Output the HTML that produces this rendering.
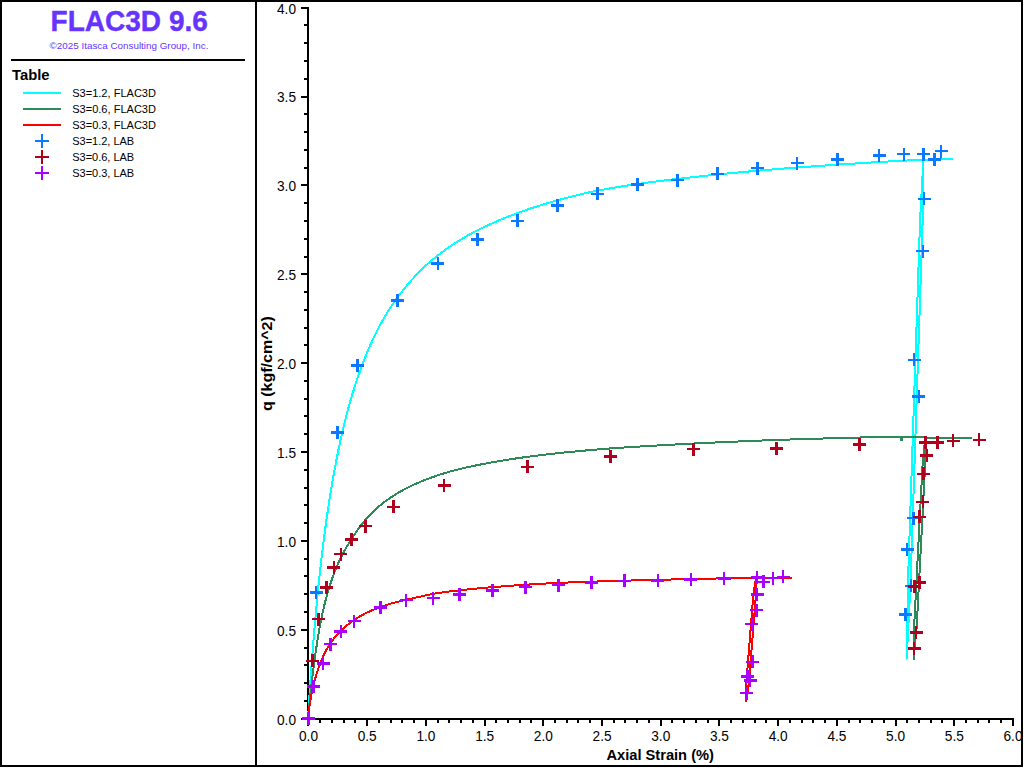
<!DOCTYPE html>
<html lang="en"><head><meta charset="utf-8"><title>FLAC3D 9.6</title>
<style>
html,body{margin:0;padding:0;background:#fff;}
body{width:1024px;height:768px;overflow:hidden;}
svg{display:block;position:absolute;left:0;top:0;}
text{font-family:"Liberation Sans",sans-serif;}
.b{font-weight:bold;}
.t{font-size:15px;fill:#000;}
</style></head><body>
<svg width="1024" height="768" viewBox="0 0 1024 768">
<rect x="0" y="0" width="1024" height="768" fill="#fff"/>
<g fill="#000" shape-rendering="crispEdges">
<rect x="0" y="0" width="1023" height="2"/>
<rect x="0" y="0" width="2" height="767"/>
<rect x="0" y="765" width="1023" height="2"/>
<rect x="1021" y="0" width="2" height="767"/>
<rect x="255" y="0" width="2" height="767"/>
<rect x="11" y="59" width="234" height="2"/>
</g>
<text x="129.2" y="31.2" text-anchor="middle" class="b" font-size="30.3" fill="#6633ff" stroke="#6633ff" stroke-width="0.4" textLength="157.3" lengthAdjust="spacingAndGlyphs">FLAC3D 9.6</text>
<text x="129" y="48.9" text-anchor="middle" font-size="9.8" fill="#6633ff" textLength="158.8" lengthAdjust="spacingAndGlyphs">©2025 Itasca Consulting Group, Inc.</text>
<text x="12" y="79.7" class="b" font-size="14.5" fill="#000" textLength="37.6" lengthAdjust="spacingAndGlyphs">Table</text>
<rect x="23" y="92" width="38" height="2" fill="#00ffff" shape-rendering="crispEdges"/>
<text x="72.2" y="96.7" font-size="11.8" fill="#000" textLength="83.8" lengthAdjust="spacingAndGlyphs">S3=1.2, FLAC3D</text>
<rect x="23" y="108" width="38" height="2" fill="#2e8b57" shape-rendering="crispEdges"/>
<text x="72.2" y="112.7" font-size="11.8" fill="#000" textLength="83.8" lengthAdjust="spacingAndGlyphs">S3=0.6, FLAC3D</text>
<rect x="23" y="124" width="38" height="2" fill="#ff0000" shape-rendering="crispEdges"/>
<text x="72.2" y="128.7" font-size="11.8" fill="#000" textLength="83.8" lengthAdjust="spacingAndGlyphs">S3=0.3, FLAC3D</text>
<g fill="#0a78ff" shape-rendering="crispEdges"><rect x="35" y="140" width="14" height="2"/><rect x="41" y="134" width="2" height="14"/></g>
<text x="72.2" y="144.7" font-size="11.8" fill="#000" textLength="62.0" lengthAdjust="spacingAndGlyphs">S3=1.2, LAB</text>
<g fill="#b0001e" shape-rendering="crispEdges"><rect x="35" y="156" width="14" height="2"/><rect x="41" y="150" width="2" height="14"/></g>
<text x="72.2" y="160.7" font-size="11.8" fill="#000" textLength="62.0" lengthAdjust="spacingAndGlyphs">S3=0.6, LAB</text>
<g fill="#aa00ff" shape-rendering="crispEdges"><rect x="35" y="172" width="14" height="2"/><rect x="41" y="166" width="2" height="14"/></g>
<text x="72.2" y="176.7" font-size="11.8" fill="#000" textLength="62.0" lengthAdjust="spacingAndGlyphs">S3=0.3, LAB</text>
<g fill="#000" shape-rendering="crispEdges">
<rect x="307" y="7" width="2" height="713"/>
<rect x="307" y="718" width="707" height="2"/>
<rect x="301" y="718" width="6" height="2"/>
<rect x="304" y="700" width="3" height="2"/>
<rect x="304" y="682" width="3" height="2"/>
<rect x="304" y="664" width="3" height="2"/>
<rect x="304" y="647" width="3" height="2"/>
<rect x="301" y="629" width="6" height="2"/>
<rect x="304" y="611" width="3" height="2"/>
<rect x="304" y="593" width="3" height="2"/>
<rect x="304" y="575" width="3" height="2"/>
<rect x="304" y="558" width="3" height="2"/>
<rect x="301" y="540" width="6" height="2"/>
<rect x="304" y="522" width="3" height="2"/>
<rect x="304" y="504" width="3" height="2"/>
<rect x="304" y="487" width="3" height="2"/>
<rect x="304" y="469" width="3" height="2"/>
<rect x="301" y="451" width="6" height="2"/>
<rect x="304" y="433" width="3" height="2"/>
<rect x="304" y="415" width="3" height="2"/>
<rect x="304" y="398" width="3" height="2"/>
<rect x="304" y="380" width="3" height="2"/>
<rect x="301" y="362" width="6" height="2"/>
<rect x="304" y="344" width="3" height="2"/>
<rect x="304" y="327" width="3" height="2"/>
<rect x="304" y="309" width="3" height="2"/>
<rect x="304" y="291" width="3" height="2"/>
<rect x="301" y="273" width="6" height="2"/>
<rect x="304" y="256" width="3" height="2"/>
<rect x="304" y="238" width="3" height="2"/>
<rect x="304" y="220" width="3" height="2"/>
<rect x="304" y="202" width="3" height="2"/>
<rect x="301" y="184" width="6" height="2"/>
<rect x="304" y="167" width="3" height="2"/>
<rect x="304" y="149" width="3" height="2"/>
<rect x="304" y="131" width="3" height="2"/>
<rect x="304" y="113" width="3" height="2"/>
<rect x="301" y="96" width="6" height="2"/>
<rect x="304" y="78" width="3" height="2"/>
<rect x="304" y="60" width="3" height="2"/>
<rect x="304" y="42" width="3" height="2"/>
<rect x="304" y="24" width="3" height="2"/>
<rect x="301" y="7" width="6" height="2"/>
<rect x="307" y="720" width="2" height="6"/>
<rect x="319" y="720" width="2" height="3"/>
<rect x="331" y="720" width="2" height="3"/>
<rect x="343" y="720" width="2" height="3"/>
<rect x="354" y="720" width="2" height="3"/>
<rect x="366" y="720" width="2" height="6"/>
<rect x="378" y="720" width="2" height="3"/>
<rect x="390" y="720" width="2" height="3"/>
<rect x="401" y="720" width="2" height="3"/>
<rect x="413" y="720" width="2" height="3"/>
<rect x="425" y="720" width="2" height="6"/>
<rect x="437" y="720" width="2" height="3"/>
<rect x="448" y="720" width="2" height="3"/>
<rect x="460" y="720" width="2" height="3"/>
<rect x="472" y="720" width="2" height="3"/>
<rect x="484" y="720" width="2" height="6"/>
<rect x="495" y="720" width="2" height="3"/>
<rect x="507" y="720" width="2" height="3"/>
<rect x="519" y="720" width="2" height="3"/>
<rect x="530" y="720" width="2" height="3"/>
<rect x="542" y="720" width="2" height="6"/>
<rect x="554" y="720" width="2" height="3"/>
<rect x="566" y="720" width="2" height="3"/>
<rect x="577" y="720" width="2" height="3"/>
<rect x="589" y="720" width="2" height="3"/>
<rect x="601" y="720" width="2" height="6"/>
<rect x="613" y="720" width="2" height="3"/>
<rect x="624" y="720" width="2" height="3"/>
<rect x="636" y="720" width="2" height="3"/>
<rect x="648" y="720" width="2" height="3"/>
<rect x="660" y="720" width="2" height="6"/>
<rect x="671" y="720" width="2" height="3"/>
<rect x="683" y="720" width="2" height="3"/>
<rect x="695" y="720" width="2" height="3"/>
<rect x="707" y="720" width="2" height="3"/>
<rect x="718" y="720" width="2" height="6"/>
<rect x="730" y="720" width="2" height="3"/>
<rect x="742" y="720" width="2" height="3"/>
<rect x="754" y="720" width="2" height="3"/>
<rect x="765" y="720" width="2" height="3"/>
<rect x="777" y="720" width="2" height="6"/>
<rect x="789" y="720" width="2" height="3"/>
<rect x="801" y="720" width="2" height="3"/>
<rect x="812" y="720" width="2" height="3"/>
<rect x="824" y="720" width="2" height="3"/>
<rect x="836" y="720" width="2" height="6"/>
<rect x="848" y="720" width="2" height="3"/>
<rect x="859" y="720" width="2" height="3"/>
<rect x="871" y="720" width="2" height="3"/>
<rect x="883" y="720" width="2" height="3"/>
<rect x="895" y="720" width="2" height="6"/>
<rect x="906" y="720" width="2" height="3"/>
<rect x="918" y="720" width="2" height="3"/>
<rect x="930" y="720" width="2" height="3"/>
<rect x="941" y="720" width="2" height="3"/>
<rect x="953" y="720" width="2" height="6"/>
<rect x="965" y="720" width="2" height="3"/>
<rect x="977" y="720" width="2" height="3"/>
<rect x="988" y="720" width="2" height="3"/>
<rect x="1000" y="720" width="2" height="3"/>
<rect x="1012" y="720" width="2" height="6"/>
</g>
<text x="296" y="724.50" text-anchor="end" class="t" textLength="19" lengthAdjust="spacingAndGlyphs">0.0</text>
<text x="296" y="635.62" text-anchor="end" class="t" textLength="19" lengthAdjust="spacingAndGlyphs">0.5</text>
<text x="296" y="546.75" text-anchor="end" class="t" textLength="19" lengthAdjust="spacingAndGlyphs">1.0</text>
<text x="296" y="457.88" text-anchor="end" class="t" textLength="19" lengthAdjust="spacingAndGlyphs">1.5</text>
<text x="296" y="369.00" text-anchor="end" class="t" textLength="19" lengthAdjust="spacingAndGlyphs">2.0</text>
<text x="296" y="280.12" text-anchor="end" class="t" textLength="19" lengthAdjust="spacingAndGlyphs">2.5</text>
<text x="296" y="191.25" text-anchor="end" class="t" textLength="19" lengthAdjust="spacingAndGlyphs">3.0</text>
<text x="296" y="102.38" text-anchor="end" class="t" textLength="19" lengthAdjust="spacingAndGlyphs">3.5</text>
<text x="296" y="13.50" text-anchor="end" class="t" textLength="19" lengthAdjust="spacingAndGlyphs">4.0</text>
<text x="308.50" y="741.2" text-anchor="middle" class="t" textLength="19" lengthAdjust="spacingAndGlyphs">0.0</text>
<text x="367.21" y="741.2" text-anchor="middle" class="t" textLength="19" lengthAdjust="spacingAndGlyphs">0.5</text>
<text x="425.92" y="741.2" text-anchor="middle" class="t" textLength="19" lengthAdjust="spacingAndGlyphs">1.0</text>
<text x="484.63" y="741.2" text-anchor="middle" class="t" textLength="19" lengthAdjust="spacingAndGlyphs">1.5</text>
<text x="543.34" y="741.2" text-anchor="middle" class="t" textLength="19" lengthAdjust="spacingAndGlyphs">2.0</text>
<text x="602.05" y="741.2" text-anchor="middle" class="t" textLength="19" lengthAdjust="spacingAndGlyphs">2.5</text>
<text x="660.76" y="741.2" text-anchor="middle" class="t" textLength="19" lengthAdjust="spacingAndGlyphs">3.0</text>
<text x="719.47" y="741.2" text-anchor="middle" class="t" textLength="19" lengthAdjust="spacingAndGlyphs">3.5</text>
<text x="778.18" y="741.2" text-anchor="middle" class="t" textLength="19" lengthAdjust="spacingAndGlyphs">4.0</text>
<text x="836.89" y="741.2" text-anchor="middle" class="t" textLength="19" lengthAdjust="spacingAndGlyphs">4.5</text>
<text x="895.60" y="741.2" text-anchor="middle" class="t" textLength="19" lengthAdjust="spacingAndGlyphs">5.0</text>
<text x="954.31" y="741.2" text-anchor="middle" class="t" textLength="19" lengthAdjust="spacingAndGlyphs">5.5</text>
<text x="1013.02" y="741.2" text-anchor="middle" class="t" textLength="19" lengthAdjust="spacingAndGlyphs">6.0</text>
<text x="660.2" y="759.7" text-anchor="middle" class="b" font-size="14.5" fill="#000" textLength="107.5" lengthAdjust="spacingAndGlyphs">Axial Strain (%)</text>
<text transform="translate(272.3,363.6) rotate(-90)" text-anchor="middle" class="b" font-size="14.5" fill="#000" textLength="95" lengthAdjust="spacingAndGlyphs">q (kgf/cm^2)</text>
<g fill="none" stroke-width="2" stroke-linejoin="round" stroke-linecap="butt" shape-rendering="crispEdges">
<path d="M308.00,719.00 L309.00,703.04 L309.99,687.92 L310.99,673.55 L311.98,659.90 L312.98,646.91 L313.97,634.52 L314.97,622.71 L315.97,611.43 L316.96,600.80 L317.96,590.70 L318.95,581.03 L319.95,571.77 L320.94,562.89 L321.94,554.37 L322.94,546.19 L323.93,538.33 L324.93,530.77 L325.92,523.49 L326.92,516.48 L327.92,509.73 L328.91,503.22 L329.91,496.94 L330.90,490.87 L331.90,484.95 L332.89,479.12 L333.89,473.48 L334.89,468.02 L335.88,462.73 L336.88,457.60 L337.87,452.63 L338.87,447.80 L339.86,443.11 L340.86,438.56 L341.86,434.14 L342.85,429.85 L343.85,425.67 L344.84,421.60 L345.84,417.65 L346.83,413.80 L347.83,410.05 L348.83,406.40 L349.82,402.84 L350.82,399.37 L351.81,395.99 L352.81,392.69 L353.81,389.47 L354.80,386.33 L355.80,383.26 L356.79,380.27 L357.79,377.34 L358.78,374.48 L359.78,371.69 L360.78,368.96 L361.77,366.24 L362.77,363.57 L363.76,360.95 L364.76,358.40 L365.75,355.89 L366.75,353.44 L369.74,346.37 L372.72,339.71 L375.71,333.42 L378.70,327.49 L381.69,322.03 L384.67,316.86 L387.66,311.96 L390.65,307.30 L393.64,302.87 L396.62,298.65 L399.61,294.63 L402.60,290.78 L405.58,287.05 L408.57,283.48 L411.56,280.07 L414.55,276.79 L417.53,273.64 L420.52,270.62 L423.51,267.71 L426.50,264.93 L429.48,262.29 L432.47,259.74 L435.46,257.28 L438.44,254.91 L441.43,252.63 L444.42,250.42 L447.41,248.29 L450.39,246.23 L453.38,244.23 L456.37,242.30 L459.36,240.43 L462.34,238.63 L465.33,236.88 L468.32,235.19 L471.31,233.55 L474.29,231.95 L477.28,230.41 L480.27,228.90 L483.25,227.44 L486.24,226.02 L489.23,224.64 L492.22,223.29 L495.20,221.99 L498.19,220.71 L501.18,219.47 L504.17,218.26 L507.15,217.08 L510.14,215.90 L513.13,214.75 L516.11,213.62 L519.10,212.51 L522.09,211.43 L525.08,210.38 L528.06,209.35 L531.05,208.34 L534.04,207.36 L537.03,206.39 L540.01,205.45 L543.00,204.53 L547.81,203.07 L552.63,201.67 L557.44,200.31 L562.25,198.99 L567.07,197.72 L571.88,196.48 L576.69,195.28 L581.50,194.11 L586.32,192.98 L591.13,191.91 L595.94,190.97 L600.76,190.07 L605.57,189.19 L610.38,188.34 L615.20,187.51 L620.01,186.71 L624.82,185.93 L629.63,185.17 L634.45,184.44 L639.26,183.73 L644.07,183.06 L648.89,182.40 L653.70,181.77 L658.51,181.15 L663.33,180.55 L668.14,179.97 L672.95,179.40 L677.77,178.85 L682.58,178.31 L687.39,177.79 L692.20,177.28 L697.02,176.76 L701.83,176.22 L706.64,175.68 L711.46,175.16 L716.27,174.65 L721.08,174.15 L725.90,173.66 L730.71,173.19 L735.52,172.72 L740.33,172.26 L745.15,171.81 L749.96,171.38 L754.77,170.95 L759.59,170.53 L764.40,170.12 L769.21,169.71 L774.03,169.32 L778.84,168.93 L783.65,168.55 L788.46,168.18 L793.28,167.81 L798.09,167.45 L802.90,167.10 L807.72,166.73 L812.53,166.38 L817.34,166.03 L822.16,165.68 L826.97,165.35 L831.78,165.01 L836.60,164.69 L841.41,164.37 L846.22,164.05 L851.03,163.74 L855.85,163.43 L860.66,163.13 L865.47,162.84 L870.29,162.55 L875.10,162.27 L879.91,161.99 L884.73,161.72 L889.54,161.45 L894.35,161.19 L899.16,160.92 L903.98,160.67 L908.79,160.41 L913.60,160.16 L918.42,159.92 L923.23,159.68 L923.30,160.00 L953.00,159.00" stroke="#00ffff"/>
<path d="M923.40,160.00 L920.10,219.83 L907.91,583.81 L906.70,658.60 L910.50,583.81 L922.70,219.83 L923.40,160.00" stroke="#00ffff"/>
<path d="M308.00,719.00 L309.00,708.31 L309.99,698.34 L310.99,689.01 L311.98,680.27 L312.98,672.06 L313.97,664.33 L314.97,657.04 L315.97,650.15 L316.96,643.63 L317.96,637.45 L318.95,631.58 L319.95,626.00 L320.94,620.69 L321.94,615.63 L322.94,611.13 L323.93,606.92 L324.93,602.91 L325.92,599.08 L326.92,595.43 L327.92,591.94 L328.91,588.60 L329.91,585.40 L330.90,582.34 L331.90,579.41 L332.89,576.60 L333.89,573.90 L334.89,571.29 L335.88,568.78 L336.88,566.36 L337.87,564.04 L338.87,561.80 L339.86,559.65 L340.86,557.57 L341.86,555.56 L342.85,553.62 L343.85,551.76 L344.84,549.95 L345.84,548.21 L346.83,546.52 L347.83,544.89 L348.83,543.31 L349.82,541.79 L350.82,540.20 L351.81,538.55 L352.81,536.96 L353.81,535.40 L354.80,533.88 L355.80,532.41 L356.79,530.97 L357.79,529.57 L358.78,528.20 L359.78,526.87 L360.78,525.57 L361.77,524.30 L362.77,523.06 L363.76,521.85 L364.76,520.67 L365.75,519.51 L366.75,518.38 L369.74,515.14 L372.72,512.11 L375.71,509.25 L378.70,506.58 L381.69,504.13 L384.67,501.82 L387.66,499.64 L390.65,497.58 L393.64,495.63 L396.62,493.77 L399.61,492.01 L402.60,490.34 L405.58,488.74 L408.57,487.22 L411.56,485.76 L414.55,484.37 L417.53,483.04 L420.52,481.77 L423.51,480.54 L426.50,479.37 L429.48,478.25 L432.47,477.16 L435.46,476.12 L438.44,475.12 L441.43,474.15 L444.42,473.22 L447.41,472.32 L450.39,471.47 L453.38,470.67 L456.37,469.90 L459.36,469.15 L462.34,468.43 L465.33,467.73 L468.32,467.06 L471.31,466.40 L474.29,465.77 L477.28,465.16 L480.27,464.57 L483.25,463.99 L486.24,463.42 L489.23,462.85 L492.22,462.30 L495.20,461.77 L498.19,461.25 L501.18,460.75 L504.17,460.26 L507.15,459.78 L510.14,459.31 L513.13,458.86 L516.11,458.42 L519.10,457.99 L522.09,457.56 L525.08,457.15 L528.06,456.75 L531.05,456.36 L534.04,455.98 L537.03,455.60 L540.01,455.24 L543.00,454.88 L547.21,454.39 L551.42,453.91 L555.63,453.44 L559.84,452.99 L564.05,452.55 L568.26,452.13 L572.46,451.71 L576.67,451.31 L580.88,450.92 L585.09,450.54 L589.30,450.17 L593.51,449.81 L597.72,449.45 L601.93,449.11 L606.14,448.78 L610.35,448.45 L614.56,448.14 L618.77,447.85 L622.97,447.56 L627.18,447.29 L631.39,447.02 L635.60,446.76 L639.81,446.50 L644.02,446.25 L648.23,446.01 L652.44,445.77 L656.65,445.54 L660.86,445.31 L665.07,445.07 L669.28,444.83 L673.48,444.59 L677.69,444.36 L681.90,444.13 L686.11,443.91 L690.32,443.69 L694.53,443.48 L698.74,443.27 L702.95,443.07 L707.16,442.87 L711.37,442.67 L715.58,442.47 L719.79,442.28 L723.99,442.09 L728.20,441.91 L732.41,441.73 L736.62,441.55 L740.83,441.37 L745.04,441.20 L749.25,441.03 L753.46,440.86 L757.67,440.70 L761.88,440.53 L766.09,440.37 L770.30,440.22 L774.50,440.06 L778.71,439.91 L782.92,439.76 L787.13,439.61 L791.34,439.47 L795.55,439.32 L799.76,439.18 L803.97,439.05 L808.18,438.92 L812.39,438.80 L816.60,438.68 L820.81,438.56 L825.01,438.44 L829.22,438.32 L833.43,438.20 L837.64,438.09 L841.85,437.98 L846.06,437.87 L850.27,437.76 L854.48,437.65 L858.69,437.55 L862.90,437.44 L867.11,437.34 L871.32,437.24 L875.52,437.14 L876.00,437.20 L923.50,437.20 L925.00,438.00 L972.00,438.00" stroke="#2e8b57"/>
<path d="M925.30,437.40 L922.61,464.03 L914.14,626.01 L913.70,659.30 L916.74,626.01 L925.21,464.03 L925.30,437.40" stroke="#2e8b57"/>
<path d="M901.5,437 V441" stroke="#2e8b57" stroke-width="2.2"/>
<path d="M308.00,719.00 L309.00,709.63 L309.99,702.49 L310.99,697.02 L311.98,692.01 L312.98,687.40 L313.97,683.24 L314.97,679.44 L315.97,675.92 L316.96,672.65 L317.96,669.62 L318.95,666.80 L319.95,664.17 L320.94,661.63 L321.94,659.21 L322.94,656.92 L323.93,654.77 L324.93,652.75 L325.92,650.83 L326.92,649.03 L327.92,647.32 L328.91,645.70 L329.91,644.15 L330.90,642.65 L331.90,641.23 L332.89,639.87 L333.89,638.57 L334.89,637.34 L335.88,636.16 L336.88,635.03 L337.87,633.96 L338.87,632.93 L339.86,631.94 L340.86,630.97 L341.86,629.96 L342.85,629.00 L343.85,628.06 L344.84,627.17 L345.84,626.30 L346.83,625.46 L347.83,624.65 L348.83,623.87 L349.82,623.12 L350.82,622.39 L351.81,621.68 L352.81,621.00 L353.81,620.34 L354.80,619.65 L355.80,618.99 L356.79,618.34 L357.79,617.71 L358.78,617.10 L359.78,616.50 L360.78,615.92 L361.77,615.36 L362.77,614.81 L363.76,614.27 L364.76,613.75 L365.75,613.24 L366.75,612.75 L369.74,611.33 L372.72,610.01 L375.71,608.77 L378.70,607.62 L381.69,606.54 L384.67,605.53 L387.66,604.57 L390.65,603.67 L393.64,602.82 L396.62,602.02 L399.61,601.25 L402.60,600.53 L405.58,599.84 L408.57,599.18 L411.56,598.56 L414.55,597.93 L417.53,597.22 L420.52,596.54 L423.51,595.89 L426.50,595.25 L429.48,594.64 L432.47,594.04 L435.46,593.46 L438.44,592.95 L441.43,592.53 L444.42,592.13 L447.41,591.74 L450.39,591.36 L453.38,591.00 L456.37,590.65 L459.36,590.31 L462.34,589.98 L465.33,589.66 L468.32,589.35 L471.31,589.05 L474.29,588.76 L477.28,588.48 L480.27,588.20 L483.25,587.93 L486.24,587.67 L489.23,587.42 L492.22,587.17 L495.20,586.93 L498.19,586.70 L501.18,586.47 L504.17,586.25 L507.15,586.03 L510.14,585.81 L513.13,585.60 L516.11,585.39 L519.10,585.19 L522.09,584.99 L525.08,584.79 L528.06,584.60 L531.05,584.41 L534.04,584.23 L537.03,584.05 L540.01,583.87 L543.00,583.70 L545.68,583.54 L548.35,583.39 L551.03,583.25 L553.71,583.10 L556.39,582.98 L559.06,582.86 L561.74,582.75 L564.42,582.65 L567.09,582.54 L569.77,582.44 L572.45,582.33 L575.13,582.23 L577.80,582.14 L580.48,582.04 L583.16,581.95 L585.84,581.85 L588.51,581.76 L591.19,581.67 L593.87,581.58 L596.54,581.50 L599.22,581.41 L601.90,581.33 L604.58,581.25 L607.25,581.17 L609.93,581.09 L612.61,581.01 L615.28,580.93 L617.96,580.86 L620.64,580.78 L623.32,580.71 L625.99,580.64 L628.67,580.56 L631.35,580.49 L634.03,580.43 L636.70,580.36 L639.38,580.29 L642.06,580.22 L644.73,580.15 L647.41,580.08 L650.09,580.01 L652.77,579.95 L655.44,579.88 L658.12,579.82 L660.80,579.75 L663.47,579.69 L666.15,579.63 L668.83,579.57 L671.51,579.50 L674.18,579.45 L676.86,579.39 L679.54,579.33 L682.22,579.27 L684.89,579.21 L687.57,579.16 L690.25,579.10 L692.92,579.05 L695.60,578.99 L698.28,578.93 L700.96,578.86 L703.63,578.79 L706.31,578.73 L708.99,578.66 L711.66,578.60 L714.34,578.54 L717.02,578.47 L719.70,578.41 L722.37,578.35 L725.05,578.29 L727.73,578.23 L730.41,578.17 L733.08,578.11 L735.76,578.05 L738.44,577.99 L741.11,577.93 L743.79,577.87 L746.47,577.82 L749.15,577.76 L751.82,577.70 L754.50,577.65 L754.00,577.90 L791.80,577.90" stroke="#ff0000"/>
<path d="M756.00,578.00 L753.52,592.74 L746.37,682.38 L746.20,700.80 L748.97,682.38 L756.12,592.74 L756.00,578.00" stroke="#ff0000"/>
</g>
<path d="M309.50,592.50h13M316.00,586.00v13M331.00,432.50h13M337.50,426.00v13M350.90,365.60h13M357.40,359.10v13M390.75,300.50h13M397.25,294.00v13M431.25,263.25h13M437.75,256.75v13M471.00,239.50h13M477.50,233.00v13M510.90,220.90h13M517.40,214.40v13M551.00,205.50h13M557.50,199.00v13M591.00,193.90h13M597.50,187.40v13M630.75,184.50h13M637.25,178.00v13M670.90,180.00h13M677.40,173.50v13M711.00,173.90h13M717.50,167.40v13M751.00,168.00h13M757.50,161.50v13M790.60,163.10h13M797.10,156.60v13M830.90,159.40h13M837.40,152.90v13M872.60,155.50h13M879.10,149.00v13M897.40,154.00h13M903.90,147.50v13M917.00,154.00h13M923.50,147.50v13M928.00,159.50h13M934.50,153.00v13M934.60,151.00h13M941.10,144.50v13M917.60,198.75h13M924.10,192.25v13M916.40,251.00h13M922.90,244.50v13M907.50,359.90h13M914.00,353.40v13M912.40,396.50h13M918.90,390.00v13M907.00,518.10h13M913.50,511.60v13M900.60,549.50h13M907.10,543.00v13M904.60,585.90h13M911.10,579.40v13M899.00,614.50h13M905.50,608.00v13" stroke="#0a78ff" stroke-width="2.5" fill="none" shape-rendering="crispEdges"/>
<path d="M306.00,660.90h13M312.50,654.40v13M312.00,619.00h13M318.50,612.50v13M320.00,587.50h13M326.50,581.00v13M327.40,567.50h13M333.90,561.00v13M334.40,554.00h13M340.90,547.50v13M344.80,539.60h13M351.30,533.10v13M358.90,526.10h13M365.40,519.60v13M386.80,506.75h13M393.30,500.25v13M437.55,485.55h13M444.05,479.05v13M520.75,466.90h13M527.25,460.40v13M603.75,456.50h13M610.25,450.00v13M687.00,449.00h13M693.50,442.50v13M770.10,448.50h13M776.60,442.00v13M853.00,444.55h13M859.50,438.05v13M919.00,442.50h13M925.50,436.00v13M931.00,442.50h13M937.50,436.00v13M946.60,440.90h13M953.10,434.40v13M972.60,439.90h13M979.10,433.40v13M920.25,455.55h13M926.75,449.05v13M916.90,473.90h13M923.40,467.40v13M916.40,501.90h13M922.90,495.40v13M913.00,516.90h13M919.50,510.40v13M912.90,582.50h13M919.40,576.00v13M908.10,586.25h13M914.60,579.75v13M909.50,632.50h13M916.00,626.00v13M907.70,648.30h13M914.20,641.80v13" stroke="#b0001e" stroke-width="2.5" fill="none" shape-rendering="crispEdges"/>
<path d="M302.00,718.50h13M308.50,712.00v13M307.00,686.50h13M313.50,680.00v13M316.70,663.50h13M323.20,657.00v13M324.00,644.10h13M330.50,637.60v13M334.40,631.50h13M340.90,625.00v13M347.50,621.00h13M354.00,614.50v13M374.00,607.50h13M380.50,601.00v13M399.50,600.00h13M406.00,593.50v13M426.50,598.00h13M433.00,591.50v13M453.00,594.25h13M459.50,587.75v13M486.00,590.25h13M492.50,583.75v13M519.00,587.10h13M525.50,580.60v13M551.90,585.00h13M558.40,578.50v13M584.90,582.50h13M591.40,576.00v13M617.90,580.90h13M624.40,574.40v13M651.30,580.50h13M657.80,574.00v13M684.40,579.70h13M690.90,573.20v13M717.60,578.50h13M724.10,572.00v13M750.60,577.50h13M757.10,571.00v13M757.00,581.90h13M763.50,575.40v13M766.60,578.00h13M773.10,571.50v13M776.60,576.90h13M783.10,570.40v13M750.60,594.50h13M757.10,588.00v13M750.00,610.00h13M756.50,603.50v13M745.40,624.00h13M751.90,617.50v13M745.80,661.90h13M752.30,655.40v13M741.00,676.25h13M747.50,669.75v13M743.70,680.50h13M750.20,674.00v13M739.75,693.10h13M746.25,686.60v13" stroke="#aa00ff" stroke-width="2.5" fill="none" shape-rendering="crispEdges"/>
</svg>
</body></html>
